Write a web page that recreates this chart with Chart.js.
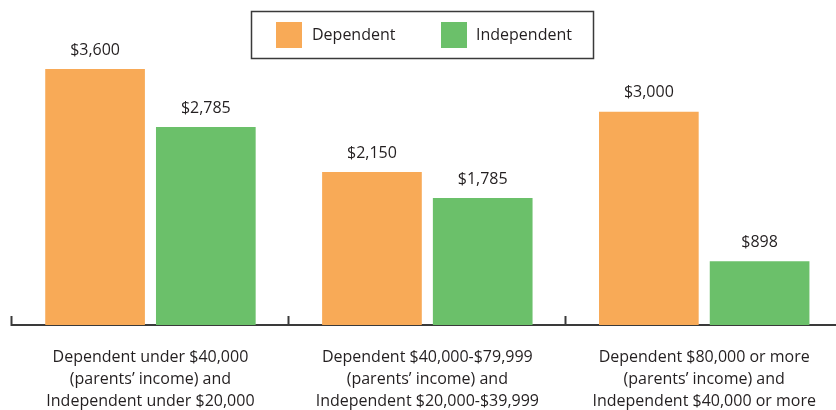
<!DOCTYPE html>
<html>
<head>
<meta charset="utf-8">
<script src="https://cdn.jsdelivr.net/npm/chart.js@4/dist/chart.umd.min.js"></script>
<style>
  html, body { margin: 0; padding: 0; background: #fff; overflow: hidden; }
  #wrap { width: 846px; height: 410px; position: relative; }
</style>
</head>
<body>
<div id="wrap"><canvas id="chart"></canvas></div>
<script>
"use strict";

// Income groups (one per x category)
const groupLabels = [
  ['Dependent under $40,000', '(parents\u2019 income) and', 'Independent under $20,000'],
  ['Dependent $40,000-$79,999', '(parents\u2019 income) and', 'Independent $20,000-$39,999'],
  ['Dependent $80,000 or more', '(parents\u2019 income) and', 'Independent $40,000 or more']
];

// Series
const seriesNames = ['Dependent', 'Independent'];
const dependentValues = [3600, 2150, 3000];
const independentValues = [2785, 1785, 898];
const seriesColors = ['#F8AA57', '#6BC06A'];

const textColor = '#231F20';
const fontFamily = '"Open Sans", sans-serif';

function money(_v) {
  return '$' + _v.toLocaleString('en-US');
}

// Values above each bar
const valueLabels = {
  id: 'valueLabels',
  afterDatasetsDraw(_chart) {
    const _ctx = _chart.ctx;
    _ctx.save();
    _ctx.font = '16px ' + fontFamily;
    _ctx.fillStyle = textColor;
    _ctx.textAlign = 'center';
    _ctx.textBaseline = 'middle';
    _chart.data.datasets.forEach(function(_ds, _i) {
      _chart.getDatasetMeta(_i).data.forEach(function(_bar, _j) {
        _ctx.fillText(money(_ds.data[_j]), _bar.x, _bar.y - 19);
      });
    });
    _ctx.restore();
  }
};

// Boxed legend at the top
const boxedLegend = {
  id: 'boxedLegend',
  afterDraw(_chart) {
    const _ctx = _chart.ctx;
    const _items = [{ sq: 276, tx: 312 }, { sq: 441, tx: 476 }];
    _ctx.save();
    _ctx.strokeStyle = '#3A3A3A';
    _ctx.lineWidth = 1.5;
    _ctx.strokeRect(251.5, 11.5, 342, 47);
    _ctx.font = '16px ' + fontFamily;
    _ctx.textBaseline = 'middle';
    _ctx.textAlign = 'left';
    _chart.data.datasets.forEach(function(_ds, _i) {
      _ctx.fillStyle = _ds.backgroundColor;
      _ctx.fillRect(_items[_i].sq, 22, 26, 26);
      _ctx.fillStyle = textColor;
      _ctx.fillText(_ds.label, _items[_i].tx, 35);
    });
    _ctx.restore();
  }
};

new Chart(document.getElementById('chart'), {
  type: 'bar',
  data: {
    labels: groupLabels,
    datasets: [
      { label: seriesNames[0], data: dependentValues, backgroundColor: seriesColors[0] },
      { label: seriesNames[1], data: independentValues, backgroundColor: seriesColors[1] }
    ]
  },
  options: {
    responsive: true,
    maintainAspectRatio: false,
    animation: false,
    events: [],
    layout: { padding: { left: 12, right: 0, top: 5, bottom: -32 } },
    datasets: {
      bar: { categoryPercentage: 0.8, barPercentage: 0.9 }
    },
    plugins: {
      legend: { display: false },
      tooltip: { enabled: false }
    },
    scales: {
      x: {
        grid: {
          drawOnChartArea: false,
          drawTicks: true,
          tickLength: -9,
          tickWidth: 2,
          tickColor: '#3A3A3A'
        },
        border: { display: true, color: '#3A3A3A', width: 2 },
        ticks: {
          color: textColor,
          padding: 30,
          maxRotation: 0,
          font: { family: fontFamily, size: 16, lineHeight: 1.375 }
        }
      },
      y: {
        display: false,
        min: 0,
        max: 4500
      }
    }
  },
  plugins: [valueLabels, boxedLegend]
});
</script>
</body>
</html>
